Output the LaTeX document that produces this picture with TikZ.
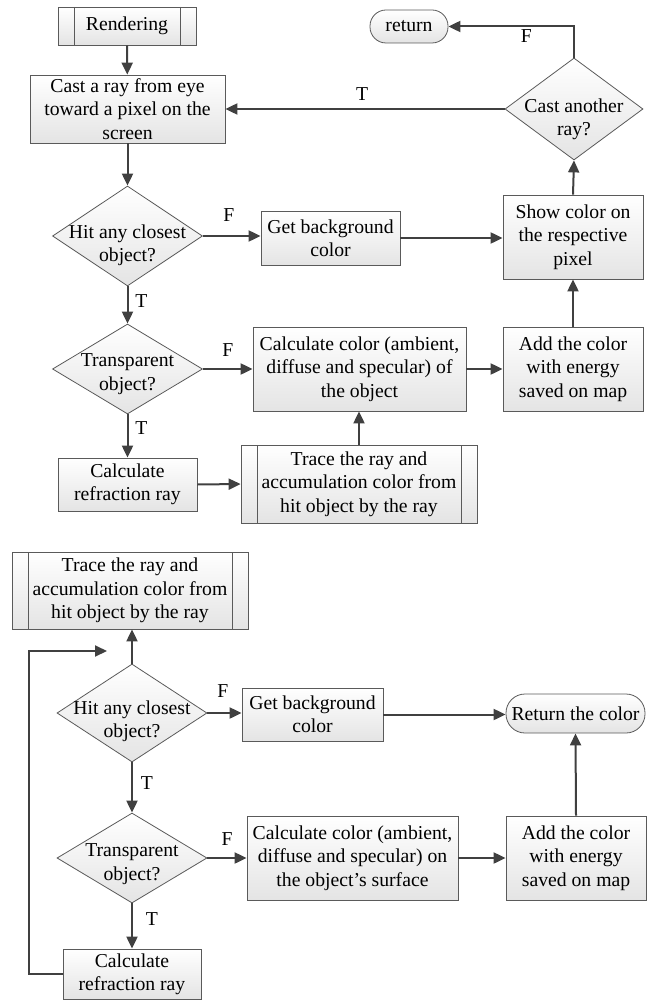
\documentclass[tikz,border=0pt]{standalone}
\usepackage{fontspec}
\setmainfont{Liberation Serif}
\usetikzlibrary{shapes.geometric,arrows.meta}
\definecolor{boxline}{HTML}{5A5A5A}
\definecolor{arrowc}{HTML}{404040}
\definecolor{fillb}{HTML}{E4E4E4}
\newcommand\figfont{\fontsize{19.7pt}{23.3pt}\selectfont}
\tikzset{
  base/.style={draw=boxline, line width=0.8pt, top color=white, bottom color=fillb, align=center, font=\figfont, inner sep=0pt},
  proc/.style={base, rectangle},
  sub/.style={proc, path picture={
      \draw[boxline, line width=0.8pt]
        ([xshift=16pt]path picture bounding box.north west) -- ([xshift=16pt]path picture bounding box.south west)
        ([xshift=-16pt]path picture bounding box.north east) -- ([xshift=-16pt]path picture bounding box.south east);}},
  dec/.style={base, diamond},
  term/.style={base, rectangle, rounded corners=#1},
  lab/.style={font=\figfont, align=center, inner sep=0pt},
  arr/.style={draw=arrowc, line width=2pt, -{Triangle[length=12pt,width=11pt]}},
  tf/.style={font=\figfont, inner sep=0pt, anchor=base}
}
\begin{document}
\begin{tikzpicture}[x=1pt, y=-1pt]
\useasboundingbox (0,0) rectangle (657,1000);

% ---------- upper chart ----------
\node[sub, minimum width=138pt, minimum height=38pt] (rend) at (127,26) {Rendering};
\node[proc, minimum width=195pt, minimum height=68pt] (cast) at (127.5,109) {Cast a ray from eye\\toward a pixel on the\\screen};
\node[dec, minimum width=150pt, minimum height=100pt,
      label={[lab,yshift=-9pt]center:{Hit any closest\\object?}}] (hit1) at (127.5,236) {};
\node[proc, minimum width=139pt, minimum height=54pt] (bg1) at (330.5,238) {Get background\\color};
\node[proc, minimum width=140pt, minimum height=84pt] (show) at (573,237) {Show color on\\the respective\\pixel};
\node[dec, minimum width=138pt, minimum height=102pt,
      label={[lab,yshift=-10pt]center:{Cast another\\ray?}}] (another) at (574,109) {};
\node[term=16pt, minimum width=78pt, minimum height=33pt] (ret) at (409,26.5) {return};
\node[dec, minimum width=150pt, minimum height=90pt,
      label={[lab,yshift=-5pt]center:{Transparent\\object?}}] (trans1) at (127.5,369) {};
\node[proc, minimum width=213pt, minimum height=84pt] (calc1) at (359.5,369) {Calculate color (ambient,\\diffuse and specular) of\\the object};
\node[proc, minimum width=140pt, minimum height=84pt] (add1) at (573,369) {Add the color\\with energy\\saved on map};
\node[proc, minimum width=139pt, minimum height=53pt] (refr1) at (127.5,484.5) {Calculate\\refraction ray};
\node[sub, minimum width=236pt, minimum height=78pt] (trace1) at (359,484) {Trace the ray and\\accumulation color from\\hit object by the ray};

\draw[arr] (rend) -- (cast);
\draw[arr] (cast) -- (hit1.north);
\draw[arr] (hit1.east) -- (hit1.east -| bg1.west) node[tf, pos=0.45, yshift=14pt] {F};
\draw[arr] (bg1.east) -- (bg1.east -| show.west);
\draw[arr] (show.north) -- (another.south);
\draw[arr] (another.north) |- (ret.east) node[tf, pos=0.69, yshift=-16pt] {F};
\draw[arr] (another.west) -- (another.west -| cast.east) node[tf, pos=0.51, yshift=8pt] {T};
\draw[arr] (hit1.south) -- (trans1.north) node[tf, pos=0.37, xshift=14pt, yshift=-7pt] {T};
\draw[arr] (trans1.east) -- (calc1.west) node[tf, pos=0.5, yshift=13pt] {F};
\draw[arr] (trans1.south) -- (refr1.north) node[tf, pos=0.31, xshift=14pt, yshift=-7pt] {T};
\draw[arr] (refr1.east) -- (trace1.west);
\draw[arr] (trace1.north) -- (trace1.north |- calc1.south);
\draw[arr] (calc1.east) -- (add1.west);
\draw[arr] (add1.north) -- (show.south);

% ---------- lower chart ----------
\node[sub, minimum width=236pt, minimum height=77pt] (trace2) at (130,590.5) {Trace the ray and\\accumulation color from\\hit object by the ray};
\node[dec, minimum width=150pt, minimum height=98pt,
      label={[lab,yshift=-8pt]center:{Hit any closest\\object?}}] (hit2) at (132,713) {};
\node[proc, minimum width=141pt, minimum height=53pt] (bg2) at (312.5,714.5) {Get background\\color};
\node[term=19pt, minimum width=139pt, minimum height=39pt] (retc) at (575.5,713.5) {Return the color};
\node[dec, minimum width=150pt, minimum height=90pt,
      label={[lab,yshift=-6pt]center:{Transparent\\object?}}] (trans2) at (132,858) {};
\node[proc, minimum width=211pt, minimum height=84pt] (calc2) at (352.5,858) {Calculate color (ambient,\\diffuse and specular) on\\the object’s surface};
\node[proc, minimum width=140pt, minimum height=84pt] (add2) at (576,858) {Add the color\\with energy\\saved on map};
\node[proc, minimum width=138pt, minimum height=50pt] (refr2) at (132,974) {Calculate\\refraction ray};
\coordinate (lc) at (29,651);
\coordinate (le) at (107,651);

\draw[arr] (hit2.north) -- (hit2.north |- trace2.south);
\draw[arr] (refr2.west) -| (lc) -- (le);
\draw[arr] (hit2.east) -- (hit2.east -| bg2.west) node[tf, pos=0.45, yshift=16pt] {F};
\draw[arr] (bg2.east) -- (bg2.east -| retc.west);
\draw[arr] (hit2.south) -- (trans2.north) node[tf, pos=0.4, xshift=15pt, yshift=-7pt] {T};
\draw[arr] (trans2.east) -- (calc2.west) node[tf, pos=0.5, yshift=13pt] {F};
\draw[arr] (trans2.south) -- (refr2.north) node[tf, pos=0.33, xshift=20pt, yshift=-7pt] {T};
\draw[arr] (calc2.east) -- (add2.west);
\draw[arr] (add2.north) -- (retc.south);
\end{tikzpicture}
\end{document}
